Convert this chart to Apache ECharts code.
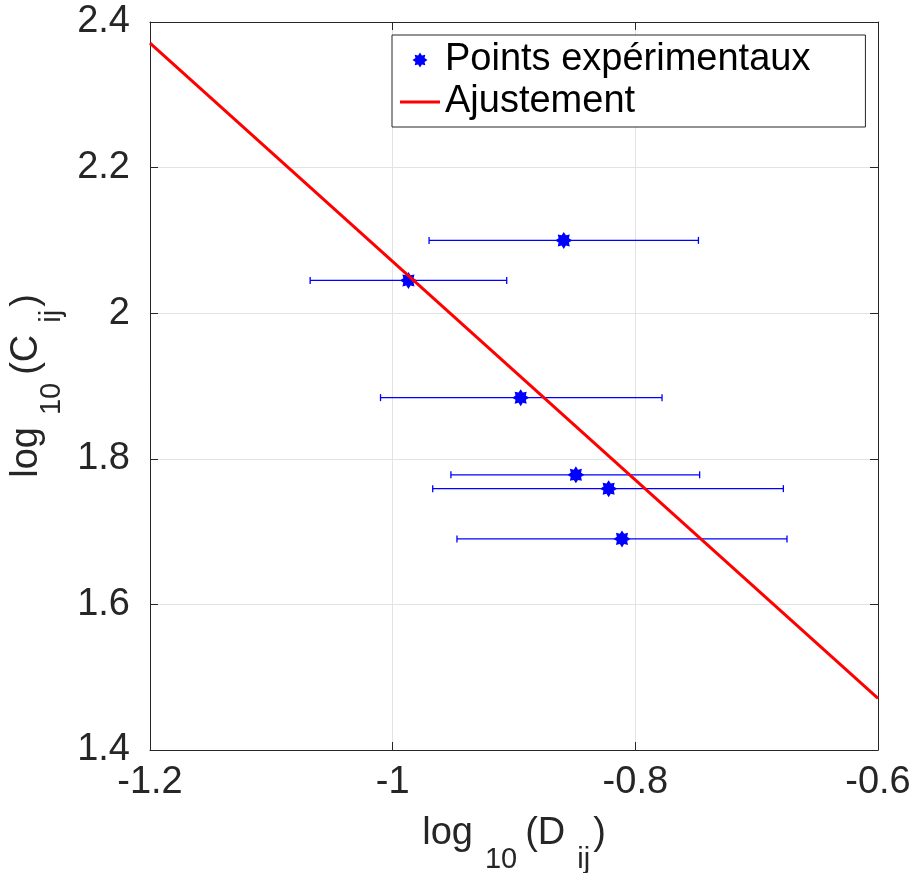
<!DOCTYPE html>
<html>
<head>
<meta charset="utf-8">
<script src="https://cdn.jsdelivr.net/npm/echarts@6/dist/echarts.min.js"></script>
<style>html,body{margin:0;padding:0;background:#fff}#c{width:911px;height:873px}</style>
</head>
<body>
<div id="c"></div>
<script>
// Experimental points (log10 D, log10 C)
const ptX = [-0.859, -0.987, -0.8945, -0.849, -0.822, -0.811];
const ptY = [2.100, 2.045, 1.884, 1.778, 1.759, 1.690];
// Horizontal error bar limits
const errLo = [-0.970, -1.068, -1.010, -0.952, -0.967, -0.947];
const errHi = [-0.748, -0.906, -0.778, -0.747, -0.678, -0.675];
// Fit line endpoints
const fitX = [-1.2, -0.6];
const fitY = [2.371, 1.471];
// Axis ticks
const xTicks = [-1.2, -1.0, -0.8, -0.6];
const yTicks = [1.4, 1.6, 1.8, 2.0, 2.2, 2.4];

const FONT = "'Liberation Sans', Helvetica, Arial, sans-serif";
const AX = '#262626';
const FS = 38;

// 8-pointed asterisk-like star symbol
function starPath() {
  let d = '';
  for (let k = 0; k < 16; k++) {
    const a = k * Math.PI / 8 - Math.PI / 2;
    const r = (k % 2 === 0) ? 50 : 33;
    const x = (50 + r * Math.cos(a)).toFixed(2);
    const y = (50 + r * Math.sin(a)).toFixed(2);
    d += (k === 0 ? 'M' : 'L') + x + ' ' + y + ' ';
  }
  return 'path://' + d + 'Z';
}
const STAR = starPath();

const scatterData = ptX.map((x, i) => [x, ptY[i]]);
const errData = ptX.map((x, i) => [errLo[i], errHi[i], ptY[i]]);
const fitData = fitX.map((x, i) => [x, fitY[i]]);

const chart = echarts.init(document.getElementById('c'), null, {renderer: 'canvas'});

const axisCommon = {
  type: 'value',
  interval: 0.2,
  axisLine: {show: true, onZero: false, lineStyle: {color: AX, width: 1}},
  axisTick: {show: true, inside: true, length: 8, lineStyle: {color: AX, width: 1}},
};

const richName = {
  a: {fontSize: FS, color: AX, fontFamily: FONT, verticalAlign: 'middle', lineHeight: 38},
  b: {fontSize: 29, color: AX, fontFamily: FONT, verticalAlign: 'bottom', lineHeight: 80, padding: [0, 8, 0, 12]},
  c: {fontSize: 29, color: AX, fontFamily: FONT, verticalAlign: 'bottom', lineHeight: 80, padding: [0, 3, 0, 12]}
};

chart.setOption({
  animation: false,
  backgroundColor: '#fff',
  textStyle: {fontFamily: FONT},
  grid: {left: 150, top: 22, right: 33, bottom: 123, containLabel: false, outerBoundsMode: 'none'},
  legend: {
    orient: 'vertical',
    left: 392, top: 35,
    padding: [6, 55, 6, 8],
    itemGap: 4,
    itemWidth: 40,
    itemHeight: 15,
    itemTextGap: 5,
    borderColor: AX, borderWidth: 1,
    backgroundColor: '#fff',
    textStyle: {fontFamily: FONT, fontSize: FS, color: '#000', lineHeight: 38},
    data: [
      {name: 'Points expérimentaux'},
      {name: 'Ajustement', icon: 'path://M0 0 H40 V3 H0 Z', itemStyle: {color: '#ff0000'}}
    ]
  },
  xAxis: [
    Object.assign({}, axisCommon, {
      position: 'bottom', min: xTicks[0], max: xTicks[xTicks.length - 1],
      axisLabel: {fontSize: FS, color: AX, margin: 14, fontFamily: FONT},
      splitLine: {show: true, lineStyle: {color: '#e3e3e3', width: 1}},
      name: '{a|log}{b|10}{a|(D}{c|ij}{a|)}',
      nameLocation: 'middle', nameGap: 44,
      nameTextStyle: {rich: richName}
    }),
    Object.assign({}, axisCommon, {
      position: 'top', min: xTicks[0], max: xTicks[xTicks.length - 1],
      axisLabel: {show: false}, splitLine: {show: false}
    })
  ],
  yAxis: [
    Object.assign({}, axisCommon, {
      position: 'left', min: yTicks[0], max: yTicks[yTicks.length - 1],
      axisLabel: {fontSize: FS, color: AX, margin: 20, fontFamily: FONT},
      splitLine: {show: true, lineStyle: {color: '#e3e3e3', width: 1}},
      name: '{a|log}{b|10}{a|(C}{c|ij}{a|)}',
      nameLocation: 'middle', nameGap: 81, nameRotate: 90,
      nameTextStyle: {rich: richName}
    }),
    Object.assign({}, axisCommon, {
      position: 'right', min: yTicks[0], max: yTicks[yTicks.length - 1],
      axisLabel: {show: false}, splitLine: {show: false}
    })
  ],
  series: [
    {
      name: 'errbars',
      type: 'custom',
      xAxisIndex: 0, yAxisIndex: 0,
      encode: {x: [0, 1], y: 2},
      data: errData,
      z: 2,
      renderItem: function (params, api) {
        const a = api.coord([api.value(0), api.value(2)]);
        const b = api.coord([api.value(1), api.value(2)]);
        const h = 3.5;
        const st = {stroke: '#0000ff', lineWidth: 1.3};
        return {
          type: 'group',
          children: [
            {type: 'line', shape: {x1: a[0], y1: a[1], x2: b[0], y2: b[1]}, style: st},
            {type: 'line', shape: {x1: a[0], y1: a[1] - h, x2: a[0], y2: a[1] + h}, style: st},
            {type: 'line', shape: {x1: b[0], y1: b[1] - h, x2: b[0], y2: b[1] + h}, style: st}
          ]
        };
      }
    },
    {
      name: 'Points expérimentaux',
      type: 'scatter',
      xAxisIndex: 0, yAxisIndex: 0,
      data: scatterData,
      symbol: STAR,
      symbolSize: 17,
      itemStyle: {color: '#0000ff', opacity: 1},
      z: 3
    },
    {
      name: 'Ajustement',
      type: 'line',
      xAxisIndex: 0, yAxisIndex: 0,
      data: fitData,
      symbol: 'none',
      lineStyle: {color: '#ff0000', width: 3},
      itemStyle: {color: '#ff0000'},
      z: 4
    }
  ]
});
</script>
</body>
</html>
